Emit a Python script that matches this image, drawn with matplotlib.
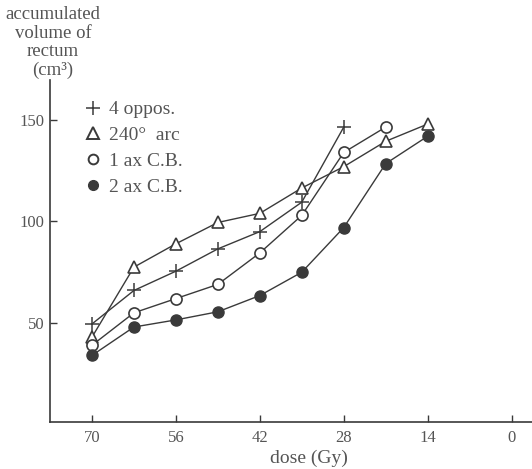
import matplotlib
matplotlib.use("Agg")
import matplotlib.pyplot as plt
from matplotlib.lines import Line2D

dose = [70, 63, 56, 49, 42, 35, 28, 21, 14]

oppos4 = [49.5, 66, 75.5, 86.5, 95, 109.5, 146.5]
arc240 = [43, 77.5, 89, 99.5, 104, 116.5, 127, 139.5, 148]
cb1 = [39, 55, 62, 69, 84.5, 103, 134, 146.5]
cb2 = [34, 48, 51.5, 55.5, 63.5, 75, 97, 128.5, 142]

xticks = [70, 56, 42, 28, 14, 0]
yticks = [50, 100, 150]

plt.rcParams['font.family'] = ['Liberation Serif', 'DejaVu Serif']
ink = '#3a3a3a'
txt = '#555555'

fig = plt.figure(figsize=(5.32, 4.69), dpi=100)
ax = fig.add_axes([50/532, 1 - 422/469, 1 - 50/532, (422 - 80)/469])

ax.plot(dose[:len(oppos4)], oppos4, color=ink, lw=1.0, marker='+', ms=10, mew=1.1)
ax.plot(dose[:len(arc240)], arc240, color=ink, lw=1.0, marker='^', ms=8, mfc='white', mec=ink, mew=1.2)
ax.plot(dose[:len(cb1)], cb1, color=ink, lw=1.0, marker='o', ms=8, mfc='white', mec=ink, mew=1.2)
ax.plot(dose[:len(cb2)], cb2, color=ink, lw=1.0, marker='o', ms=8, mfc=ink, mec=ink, mew=1.0)

ax.set_xlim(77, -3.4)
ax.set_ylim(1.2, 169.7)
ax.set_xticks(xticks)
ax.set_yticks(yticks)
for s in ['top', 'right']:
    ax.spines[s].set_visible(False)
for s in ['left', 'bottom']:
    ax.spines[s].set_color(ink)
    ax.spines[s].set_linewidth(1.2)
ax.tick_params(direction='in', length=5, width=1.0, colors=ink, labelcolor=txt, labelsize=12)
ax.tick_params(axis='x', pad=6)
ax.tick_params(axis='y', pad=4)

fig.text(309/532, 1 - 463/469, 'dose (Gy)', ha='center', va='baseline', fontsize=14, color=txt)
fig.text(53/532, 1 - 6/469, 'accumulated\nvolume of\nrectum\n(cm³)', ha='center', va='top',
         fontsize=13.5, color=txt, linespacing=1.12)

handles = [
    Line2D([], [], ls='none', marker='+', ms=10, mew=1.1, color=ink),
    Line2D([], [], ls='none', marker='^', ms=8, mfc='white', mec=ink, mew=1.4),
    Line2D([], [], ls='none', marker='o', ms=7, mfc='white', mec=ink, mew=1.4),
    Line2D([], [], ls='none', marker='o', ms=7, mfc=ink, mec=ink),
]
labels = ['4 oppos.', '240°  arc', '1 ax C.B.', '2 ax C.B.']
leg = ax.legend(handles, labels, loc='upper left', bbox_to_anchor=(74/532, 1 - 91/469),
                bbox_transform=fig.transFigure, frameon=False, fontsize=14, handlelength=1.0,
                handletextpad=0.3, labelspacing=0.42, borderpad=0)
for t in leg.get_texts():
    t.set_color(txt)

fig.savefig('out.png', dpi=100, facecolor='white')
